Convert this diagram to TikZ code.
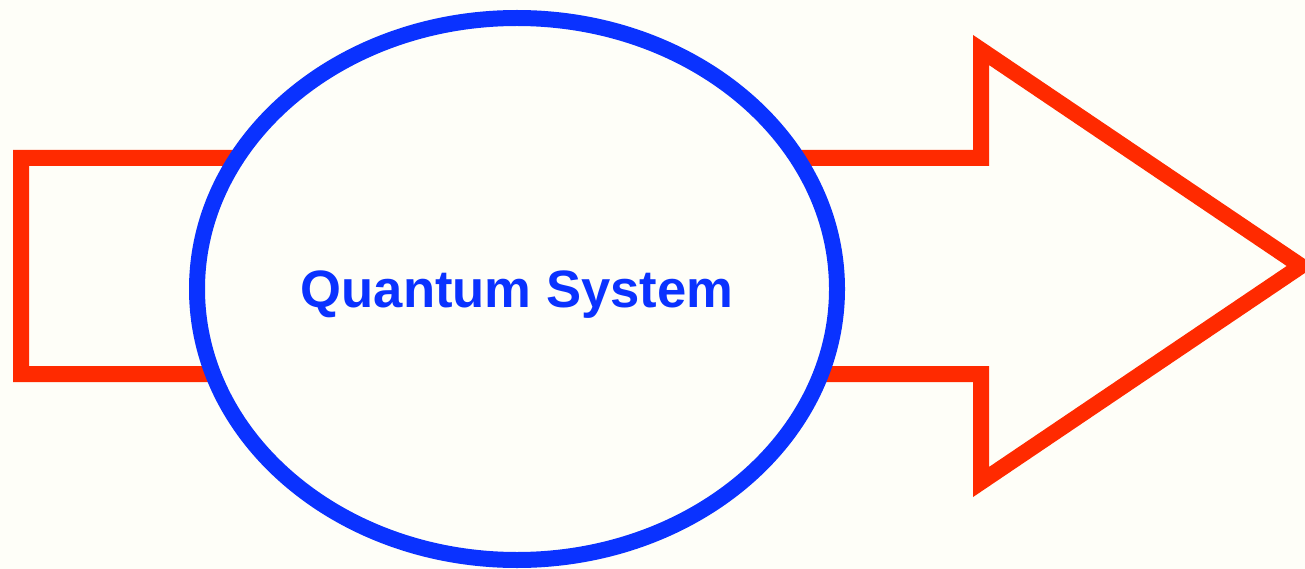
\documentclass[tikz,border=0pt]{standalone}
\usepackage{xcolor}
\usepackage{fontspec}
\setmainfont{Liberation Sans}
\usepackage{tikz}
\usetikzlibrary{shapes.geometric}
\definecolor{arrowred}{HTML}{FF2A00}
\definecolor{sysblue}{HTML}{0A32FF}
\definecolor{paper}{HTML}{FEFEF8}

\begin{document}
\begin{tikzpicture}[
    x=1pt,y=-1pt,
    outline/.style={draw=arrowred,line width=16pt,miter limit=10},
    system/.style={ellipse,draw=sysblue,line width=16pt,fill=paper,inner sep=0pt,minimum width=640pt,minimum height=542pt,text=sysblue,font=\fontsize{52.6}{60}\selectfont\bfseries,text depth=0pt}
  ]
    \fill[paper] (0,0) rectangle (1305,569);
    \useasboundingbox (0,0) rectangle (1305,569);

    \coordinate (tip) at (1301,266);
    \draw[outline] (21,158) -- (981,158) -- (981,50) -- (tip) -- (981,482) -- (981,374) -- (21,374) -- cycle;

    \node[system] (sys) at (517,289) {Quantum System};
  \end{tikzpicture}
\end{document}
